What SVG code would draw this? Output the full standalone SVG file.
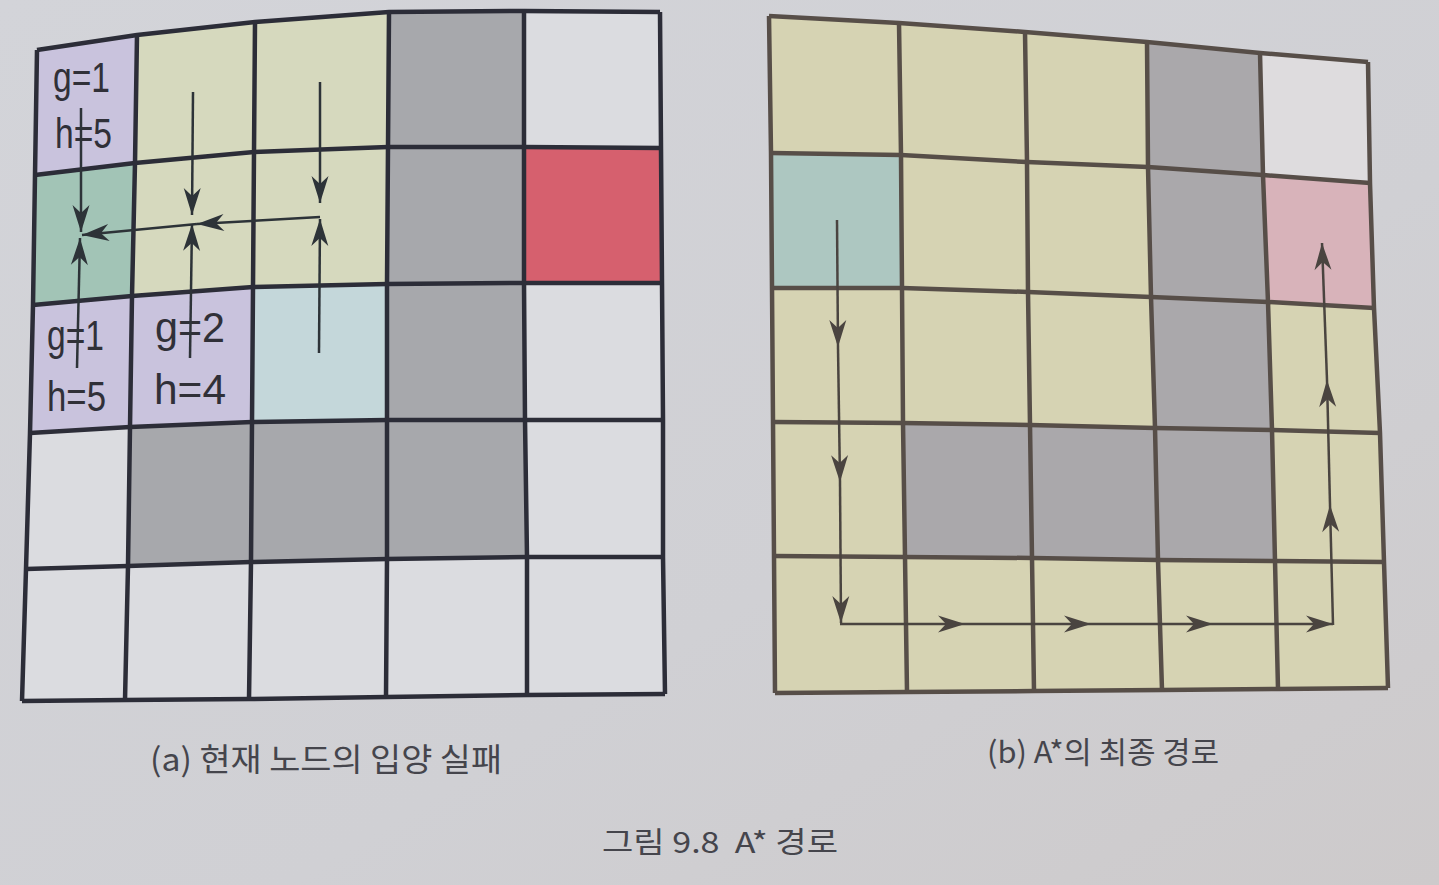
<svg xmlns="http://www.w3.org/2000/svg" width="1439" height="885" viewBox="0 0 1439 885">
<defs>
<linearGradient id="bg" x1="0" y1="0" x2="1" y2="1">
<stop offset="0" stop-color="#d3d4d9"/>
<stop offset="0.6" stop-color="#d0d0d4"/>
<stop offset="1" stop-color="#cdcacb"/>
</linearGradient>
<marker id="ahA" markerUnits="userSpaceOnUse" markerWidth="30" markerHeight="20" viewBox="-28 -10 30 20" refX="0" refY="0" orient="auto">
<path d="M0,0 L-27,-8.5 L-19,0 L-27,8.5 Z" fill="#2d3338"/>
</marker>
<marker id="ahB" markerUnits="userSpaceOnUse" markerWidth="30" markerHeight="20" viewBox="-28 -10 30 20" refX="0" refY="0" orient="auto">
<path d="M0,0 L-27,-8.5 L-19,0 L-27,8.5 Z" fill="#4a4440"/>
</marker>
</defs>
<style>
.p{fill:#c9c3dd}.y{fill:#d6d9be}.g{fill:#a7a8ac}.w{fill:#dbdce0}.t{fill:#a2c4b6}.r{fill:#d6606e}.b{fill:#c4d7da}
.Y{fill:#d6d3b3}.G{fill:#aaa8ab}.W{fill:#dedcde}.T{fill:#adc7c1}.K{fill:#d8b3ba}
.la{fill:none;stroke:#2c2d38;stroke-width:4.5;stroke-linejoin:round}
.lb{fill:none;stroke:#574e48;stroke-width:4.5;stroke-linejoin:round}
.aa{stroke:#2d3338;stroke-width:2.5;fill:none;marker-end:url(#ahA)}
.ab{stroke:#4a4440;stroke-width:2.5;fill:none;marker-end:url(#ahB)}
.gh{font-family:"Liberation Sans",Arial,sans-serif;font-size:42px;fill:#303038}
.cap{font-family:"Noto Sans CJK KR",sans-serif;fill:#45454c;white-space:pre}
</style>
<rect width="1439" height="885" fill="url(#bg)"/>

<g id="grid-a">
<g id="a-r0c0"><polygon class="p" points="37,50 137,35 135,163 35,175"/><text class="gh" x="53" y="92" textLength="57" lengthAdjust="spacingAndGlyphs">g=1</text><text class="gh" x="55" y="148" textLength="57" lengthAdjust="spacingAndGlyphs">h=5</text></g>
<g id="a-r0c1"><polygon class="y" points="137,35 255,22 254,152 135,163"/></g>
<g id="a-r0c2"><polygon class="y" points="255,22 389,12 388,147 254,152"/></g>
<g id="a-r0c3"><polygon class="g" points="389,12 524,11 524,147 388,147"/></g>
<g id="a-r0c4"><polygon class="w" points="524,11 660,12 661,148 524,147"/></g>
<g id="a-r1c0"><polygon class="t" points="35,175 135,163 132,296 33,305"/></g>
<g id="a-r1c1"><polygon class="y" points="135,163 254,152 253,287 132,296"/></g>
<g id="a-r1c2"><polygon class="y" points="254,152 388,147 387,284 253,287"/></g>
<g id="a-r1c3"><polygon class="g" points="388,147 524,147 524,283 387,284"/></g>
<g id="a-r1c4"><polygon class="r" points="524,147 661,148 662,283 524,283"/></g>
<g id="a-r2c0"><polygon class="p" points="33,305 132,296 130,427 30,433"/><text class="gh" x="47" y="350" textLength="57" lengthAdjust="spacingAndGlyphs">g=1</text><text class="gh" x="47" y="411" textLength="59" lengthAdjust="spacingAndGlyphs">h=5</text></g>
<g id="a-r2c1"><polygon class="p" points="132,296 253,287 252,422 130,427"/><text class="gh" x="155" y="342" textLength="70" lengthAdjust="spacingAndGlyphs">g=2</text><text class="gh" x="154" y="404" textLength="72" lengthAdjust="spacingAndGlyphs">h=4</text></g>
<g id="a-r2c2"><polygon class="b" points="253,287 387,284 387,420 252,422"/></g>
<g id="a-r2c3"><polygon class="g" points="387,284 524,283 525,420 387,420"/></g>
<g id="a-r2c4"><polygon class="w" points="524,283 662,283 663,420 525,420"/></g>
<g id="a-r3c0"><polygon class="w" points="30,433 130,427 128,566 26,569"/></g>
<g id="a-r3c1"><polygon class="g" points="130,427 252,422 251,562 128,566"/></g>
<g id="a-r3c2"><polygon class="g" points="252,422 387,420 387,559 251,562"/></g>
<g id="a-r3c3"><polygon class="g" points="387,420 525,420 527,557 387,559"/></g>
<g id="a-r3c4"><polygon class="w" points="525,420 663,420 663,557 527,557"/></g>
<g id="a-r4c0"><polygon class="w" points="26,569 128,566 125,700 22,701"/></g>
<g id="a-r4c1"><polygon class="w" points="128,566 251,562 249,699 125,700"/></g>
<g id="a-r4c2"><polygon class="w" points="251,562 387,559 386,697 249,699"/></g>
<g id="a-r4c3"><polygon class="w" points="387,559 527,557 527,695 386,697"/></g>
<g id="a-r4c4"><polygon class="w" points="527,557 663,557 665,694 527,695"/></g>
<g id="a-lines">
<polyline class="la" points="37,50 137,35 255,22 389,12 524,11 660,12"/>
<polyline class="la" points="35,175 135,163 254,152 388,147 524,147 661,148"/>
<polyline class="la" points="33,305 132,296 253,287 387,284 524,283 662,283"/>
<polyline class="la" points="30,433 130,427 252,422 387,420 525,420 663,420"/>
<polyline class="la" points="26,569 128,566 251,562 387,559 527,557 663,557"/>
<polyline class="la" points="22,701 125,700 249,699 386,697 527,695 665,694"/>
<polyline class="la" points="37,50 35,175 33,305 30,433 26,569 22,701"/>
<polyline class="la" points="137,35 135,163 132,296 130,427 128,566 125,700"/>
<polyline class="la" points="255,22 254,152 253,287 252,422 251,562 249,699"/>
<polyline class="la" points="389,12 388,147 387,284 387,420 387,559 386,697"/>
<polyline class="la" points="524,11 524,147 524,283 525,420 527,557 527,695"/>
<polyline class="la" points="660,12 661,148 662,283 663,420 663,557 665,694"/>
</g>
</g>

<g id="grid-b">
<g id="b-r0c0"><polygon class="Y" points="769,16 899,23 901,155 771,153"/></g>
<g id="b-r0c1"><polygon class="Y" points="899,23 1025,32 1027,162 901,155"/></g>
<g id="b-r0c2"><polygon class="Y" points="1025,32 1147,42 1148,167 1027,162"/></g>
<g id="b-r0c3"><polygon class="G" points="1147,42 1260,53 1263,175 1148,167"/></g>
<g id="b-r0c4"><polygon class="W" points="1260,53 1368,62 1370,183 1263,175"/></g>
<g id="b-r1c0"><polygon class="T" points="771,153 901,155 902,288 772,288"/></g>
<g id="b-r1c1"><polygon class="Y" points="901,155 1027,162 1028,292 902,288"/></g>
<g id="b-r1c2"><polygon class="Y" points="1027,162 1148,167 1151,297 1028,292"/></g>
<g id="b-r1c3"><polygon class="G" points="1148,167 1263,175 1268,302 1151,297"/></g>
<g id="b-r1c4"><polygon class="K" points="1263,175 1370,183 1374,308 1268,302"/></g>
<g id="b-r2c0"><polygon class="Y" points="772,288 902,288 903,423 773,422"/></g>
<g id="b-r2c1"><polygon class="Y" points="902,288 1028,292 1030,425 903,423"/></g>
<g id="b-r2c2"><polygon class="Y" points="1028,292 1151,297 1155,428 1030,425"/></g>
<g id="b-r2c3"><polygon class="G" points="1151,297 1268,302 1272,430 1155,428"/></g>
<g id="b-r2c4"><polygon class="Y" points="1268,302 1374,308 1380,433 1272,430"/></g>
<g id="b-r3c0"><polygon class="Y" points="773,422 903,423 905,557 774,556"/></g>
<g id="b-r3c1"><polygon class="G" points="903,423 1030,425 1032,558 905,557"/></g>
<g id="b-r3c2"><polygon class="G" points="1030,425 1155,428 1158,560 1032,558"/></g>
<g id="b-r3c3"><polygon class="G" points="1155,428 1272,430 1275,561 1158,560"/></g>
<g id="b-r3c4"><polygon class="Y" points="1272,430 1380,433 1384,562 1275,561"/></g>
<g id="b-r4c0"><polygon class="Y" points="774,556 905,557 907,692 775,693"/></g>
<g id="b-r4c1"><polygon class="Y" points="905,557 1032,558 1034,691 907,692"/></g>
<g id="b-r4c2"><polygon class="Y" points="1032,558 1158,560 1162,690 1034,691"/></g>
<g id="b-r4c3"><polygon class="Y" points="1158,560 1275,561 1278,689 1162,690"/></g>
<g id="b-r4c4"><polygon class="Y" points="1275,561 1384,562 1388,688 1278,689"/></g>
<g id="b-lines">
<polyline class="lb" points="769,16 899,23 1025,32 1147,42 1260,53 1368,62"/>
<polyline class="lb" points="771,153 901,155 1027,162 1148,167 1263,175 1370,183"/>
<polyline class="lb" points="772,288 902,288 1028,292 1151,297 1268,302 1374,308"/>
<polyline class="lb" points="773,422 903,423 1030,425 1155,428 1272,430 1380,433"/>
<polyline class="lb" points="774,556 905,557 1032,558 1158,560 1275,561 1384,562"/>
<polyline class="lb" points="775,693 907,692 1034,691 1162,690 1278,689 1388,688"/>
<polyline class="lb" points="769,16 771,153 772,288 773,422 774,556 775,693"/>
<polyline class="lb" points="899,23 901,155 902,288 903,423 905,557 907,692"/>
<polyline class="lb" points="1025,32 1027,162 1028,292 1030,425 1032,558 1034,691"/>
<polyline class="lb" points="1147,42 1148,167 1151,297 1155,428 1158,560 1162,690"/>
<polyline class="lb" points="1260,53 1263,175 1268,302 1272,430 1275,561 1278,689"/>
<polyline class="lb" points="1368,62 1370,183 1374,308 1380,433 1384,562 1388,688"/>
</g>
</g>

<g id="connectors">
<line class="aa" x1="81" y1="108" x2="81" y2="232"/>
<line class="aa" x1="77" y1="368" x2="80" y2="238"/>
<line class="aa" x1="320" y1="217" x2="197" y2="224"/>
<line class="aa" x1="197" y1="224" x2="82" y2="235"/>
<line class="aa" x1="193" y1="92" x2="192" y2="215"/>
<line class="aa" x1="190" y1="358" x2="192" y2="224"/>
<line class="aa" x1="320" y1="82" x2="320" y2="203"/>
<line class="aa" x1="319" y1="353" x2="320" y2="219"/>

<line class="ab" x1="837" y1="220" x2="838" y2="347"/>
<line class="ab" x1="838" y1="347" x2="840" y2="482"/>
<line class="ab" x1="840" y1="482" x2="841" y2="623"/>
<line class="ab" x1="840" y1="624" x2="965" y2="624"/>
<line class="ab" x1="965" y1="624" x2="1091" y2="624"/>
<line class="ab" x1="1091" y1="624" x2="1213" y2="624"/>
<line class="ab" x1="1213" y1="624" x2="1333" y2="624"/>
<line class="ab" x1="1333" y1="625" x2="1330" y2="505"/>
<line class="ab" x1="1330" y1="505" x2="1327" y2="380"/>
<line class="ab" x1="1327" y1="380" x2="1322" y2="243"/>
</g>

<g id="labels">
<text class="cap" x="150" y="771" font-size="32" textLength="352" lengthAdjust="spacingAndGlyphs">(a) 현재 노드의 입양 실패</text>
<text class="cap" x="987" y="763" font-size="30" textLength="232" lengthAdjust="spacingAndGlyphs">(b) A*의 최종 경로</text>
<text class="cap" x="602" y="853" font-size="29" textLength="236" lengthAdjust="spacingAndGlyphs">그림 9.8  A* 경로</text>
</g>
</svg>
